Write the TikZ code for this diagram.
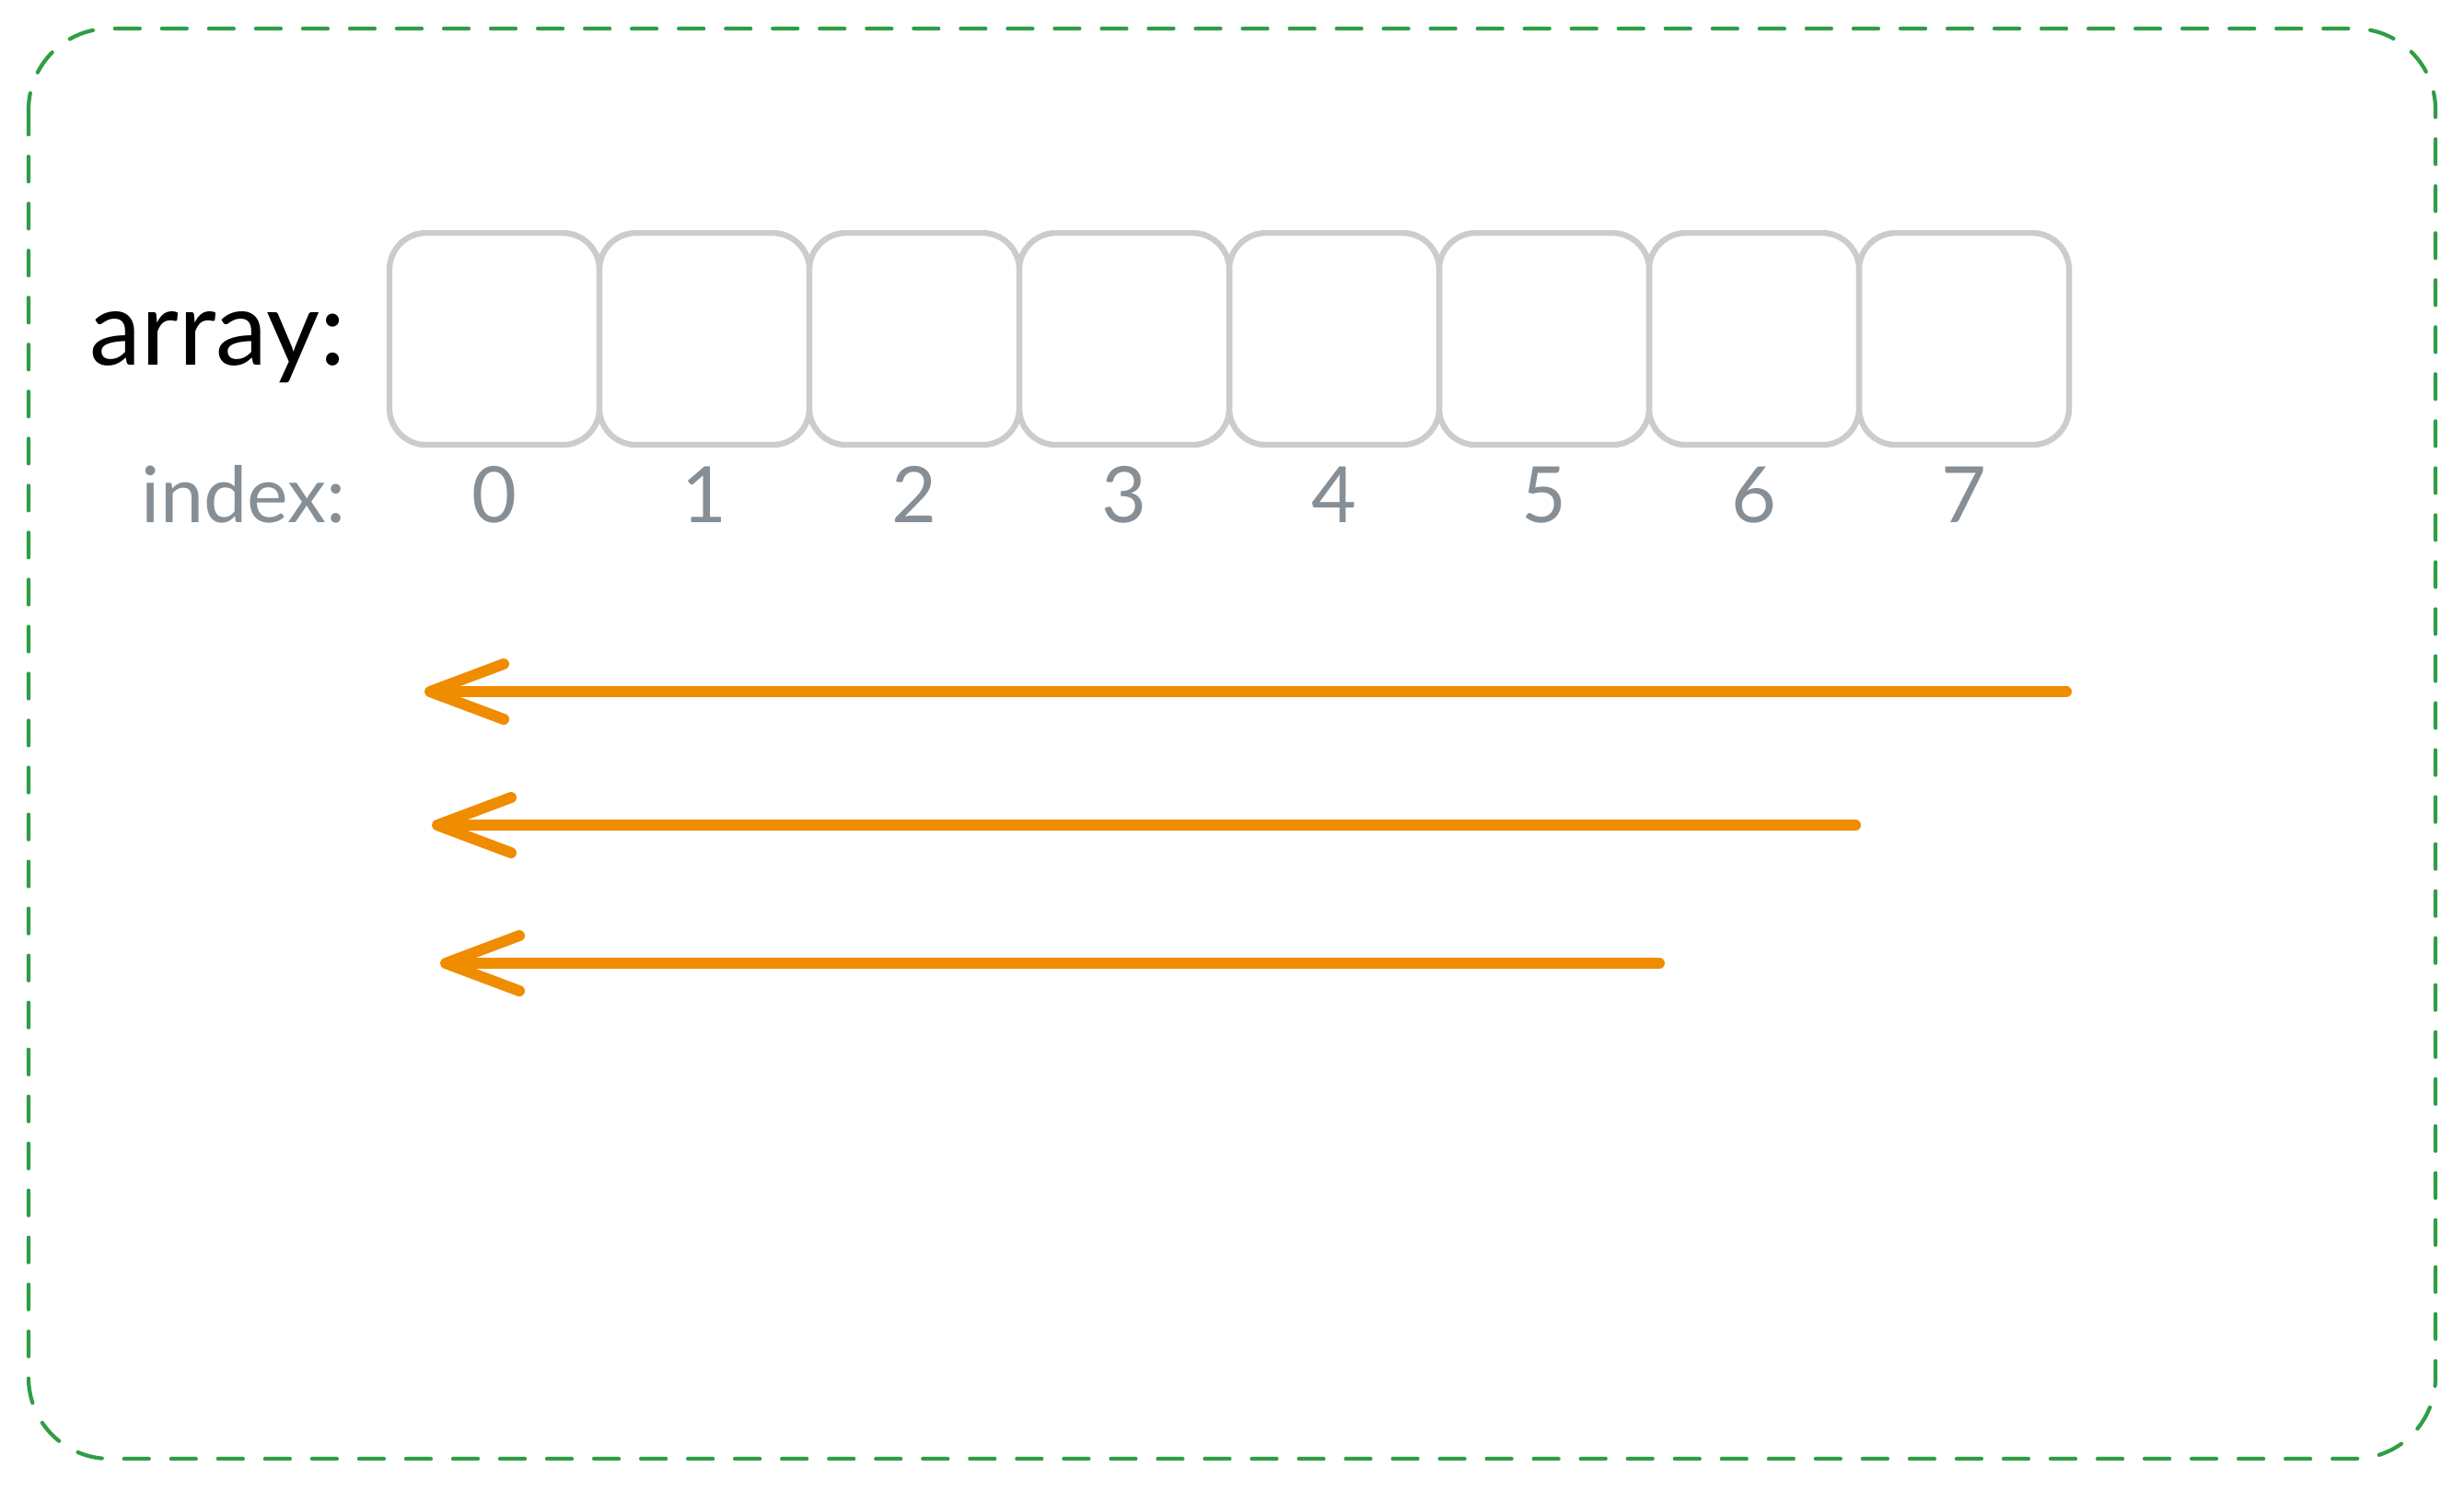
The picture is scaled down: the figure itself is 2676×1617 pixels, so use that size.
\documentclass[tikz,border=0pt]{standalone}
\usepackage{fontspec}
\setmainfont{Lato}
\usetikzlibrary{arrows.meta}
\definecolor{framegreen}{HTML}{2F9E44}
\definecolor{arroworange}{HTML}{F08C00}
\definecolor{indexgray}{HTML}{868E96}
\definecolor{cellgray}{HTML}{CCCCCC}

\tikzset{
	cell/.style={draw=cellgray, line width=1.8pt, rounded corners=0.4cm, minimum width=2.28cm, minimum height=2.3cm, inner sep=0pt, outer sep=0pt},
	numlabel/.style={indexgray, font=\fontsize{24}{28}\selectfont, anchor=base},
	sweep/.style={arroworange, line width=3.4pt, line cap=round, -{Straight Barb[length=0.8cm, width=0.6cm, round]}}
}

\begin{document}
\begin{tikzpicture}[x=0.01cm, y=-0.01cm]
		%%%%% START %%%%%
		
		\useasboundingbox (0, 0) rectangle (2676, 1617);
		
		\draw[framegreen, line width=1.2pt, line cap=round, dash pattern=on 0.27cm off 0.24cm, rounded corners=0.88cm] (31, 31) rectangle (2645, 1584);
		
		\node[anchor=base east, font=\fontsize{32}{38}\selectfont] (arraylabel) at (388, 396) {array:};
		\node[anchor=base east, indexgray, font=\fontsize{24}{28}\selectfont] (indexlabel) at (388, 567) {index:};
		
		\foreach \i in {0,...,7} {
			\node[cell] (cell\i) at ({537+228*\i}, 368) {};
			\node[numlabel] (num\i) at ({537+228*\i}, 567) {\i};
		}
		
		\coordinate (from1) at (2244, 751);
		\coordinate (to1) at (461, 751);
		\coordinate (from2) at (2015, 896);
		\coordinate (to2) at (469, 896);
		\coordinate (from3) at (1802, 1046);
		\coordinate (to3) at (478, 1046);
		
		\draw[sweep] (from1) -- (to1);
		\draw[sweep] (from2) -- (to2);
		\draw[sweep] (from3) -- (to3);
		
		%%%%% END %%%%%
	\end{tikzpicture}
\end{document}
